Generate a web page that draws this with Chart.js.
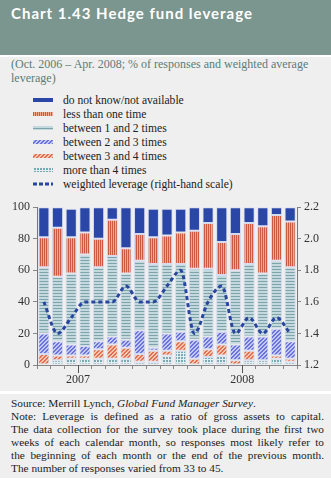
<!DOCTYPE html>
<html>
<head>
<meta charset="utf-8">
<script src="https://cdn.jsdelivr.net/npm/chart.js@4.4.1/dist/chart.umd.min.js"></script>
<style>
  body { margin: 0; width: 331px; height: 480px; background: #fff; position: relative; overflow: hidden; }
  .box { position: absolute; left: 0; width: 331px; background: #efefef; }
  #head { position: absolute; left: 0; top: 0; width: 331px; height: 55px; background: #7b958f; }
  #head h1 { margin: 0; position: absolute; left: 11px; top: 4px; font: bold 15px Lato, sans-serif; letter-spacing: 1px; color: #fff; }
  #sub { position: absolute; left: 11px; top: 58px; width: 315px; font: 12px "Liberation Serif", serif; line-height: 13.5px; color: #5a7d76; }
  #legend { position: absolute; left: 33px; top: 94px; font: 11.6px "Liberation Serif", serif; color: #222; }
  #legend div { height: 14px; line-height: 14px; white-space: nowrap; }
  #legend canvas { vertical-align: middle; margin-right: 10px; position: relative; top: -1px; }
  #wrap { position: absolute; left: 0; top: 197px; width: 331px; height: 195px; }
  #foot { position: absolute; left: 11px; top: 397px; width: 313px; font: 11.3px "Liberation Serif", serif; line-height: 13px; color: #222; }
  #foot div { text-align: justify; text-align-last: justify; white-space: nowrap; }
  #foot div.l { text-align-last: left; }
</style>
</head>
<body>
<div id="head"><h1>Chart 1.43 Hedge fund leverage</h1></div>
<div class="box" style="top:57px;height:334px"></div>
<div class="box" style="top:394px;height:84px"></div>
<div id="sub">(Oct. 2006 – Apr. 2008; % of responses and weighted average leverage)</div>
<div id="legend"></div>
<div id="wrap"><canvas id="chart"></canvas></div>
<div id="foot">
  <div class="l">Source: Merrill Lynch, <i>Global Fund Manager Survey</i>.</div>
  <div>Note: Leverage is defined as a ratio of gross assets to capital.</div>
  <div>The data collection for the survey took place during the first two</div>
  <div>weeks of each calendar month, so responses most likely refer to</div>
  <div>the beginning of each month or the end of the previous month.</div>
  <div class="l">The number of responses varied from 33 to 45.</div>
</div>
<script>
// Oct 2006 - Apr 2008, % of responses by leverage bucket
const months = ['Oct 06', 'Nov 06', 'Dec 06', 'Jan 07', 'Feb 07', 'Mar 07', 'Apr 07', 'May 07', 'Jun 07', 'Jul 07',
  'Aug 07', 'Sep 07', 'Oct 07', 'Nov 07', 'Dec 07', 'Jan 08', 'Feb 08', 'Mar 08', 'Apr 08'];
const yearLabels = { 3: '2007', 15: '2008' };

const moreThan4 = [0, 3, 4, 4, 4, 4, 4, 2, 2, 6, 9, 0, 5, 6, 0, 3, 3, 4, 2];
const between3and4 = [7, 3, 2, 2, 6, 9, 7, 5, 7, 3, 6, 4, 5, 7, 3, 6, 0, 2, 2];
const between2and3 = [13, 9, 7, 6, 5, 5, 5, 15, 2, 11, 6, 12, 8, 8, 10, 9, 15, 17, 11];
const between1and2 = [42, 41, 45, 58, 47, 51, 42, 44, 53, 44, 43, 45, 43, 36, 47, 46, 40, 43, 47];
const lessThanOne = [19, 31, 23, 14, 18, 23, 16, 17, 17, 18, 20, 24, 29, 21, 23, 26, 30, 29, 29];
const doNotKnow = [19, 13, 18, 16, 20, 8, 26, 17, 18, 17, 15, 15, 10, 22, 17, 10, 12, 5, 9];
// weighted average leverage, right-hand scale
const weighted = [1.6, 1.4, 1.5, 1.6, 1.6, 1.6, 1.7, 1.6, 1.6, 1.7, 1.8, 1.4, 1.6, 1.7, 1.4, 1.5, 1.4, 1.5, 1.4];

const leftTicks = [0, 20, 40, 60, 80, 100];
const rightTicks = [1.2, 1.4, 1.6, 1.8, 2.0, 2.2];

function makePattern(w, h, bg, draw) {
  const c = document.createElement('canvas');
  c.width = w; c.height = h;
  const g = c.getContext('2d');
  g.fillStyle = bg;
  g.fillRect(0, 0, w, h);
  draw(g);
  return g.createPattern(c, 'repeat');
}

function diagonal(bg, fg) {
  return makePattern(4, 4, bg, g => {
    g.fillStyle = fg;
    for (let i = 0; i < 4; i++) {
      g.fillRect(i, 3 - i, 1, 1);
      g.fillRect(i, (4 - i) % 4, 1, 1);
    }
  });
}

const fills = {
  dkn: '#2a47a8',
  less: makePattern(2, 1, '#f0aa90', g => { g.fillStyle = '#cc5a42'; g.fillRect(0, 0, 1, 1); }),
  b12: makePattern(1, 3, '#c4d9dd', g => { g.fillStyle = '#7ea3aa'; g.fillRect(0, 0, 1, 1); }),
  b23: diagonal('#c2c8f6', '#6c74dc'),
  b34: diagonal('#f6c6b2', '#e0704f'),
  mt4: makePattern(3, 3, '#78aab3', g => { g.fillStyle = '#e4eef0'; g.fillRect(0, 0, 3, 1); g.fillRect(0, 0, 1, 3); })
};

const lineColor = '#2845a0';
const edge = '#d6dcef';

function barSet(label, data, fill) {
  return {
    type: 'bar', label, data, backgroundColor: fill, borderColor: edge, borderWidth: 1,
    borderSkipped: false, yAxisID: 'y', stack: 's', order: 2,
    barPercentage: 0.82, categoryPercentage: 1
  };
}

const datasets = [
  barSet('more than 4 times', moreThan4, fills.mt4),
  barSet('between 3 and 4 times', between3and4, fills.b34),
  barSet('between 2 and 3 times', between2and3, fills.b23),
  barSet('between 1 and 2 times', between1and2, fills.b12),
  barSet('less than one time', lessThanOne, fills.less),
  barSet('do not know/not available', doNotKnow, fills.dkn),
  {
    type: 'line', label: 'weighted leverage (right-hand scale)', data: weighted, yAxisID: 'y1', order: 0,
    borderColor: lineColor, borderWidth: 3, borderDash: [4, 3], pointRadius: 0,
    cubicInterpolationMode: 'monotone', fill: false
  }
];

const serif = { family: '"Liberation Serif", serif', size: 12 };

// longer tick marks at the start of each year
const yearTicks = {
  id: 'yearTicks',
  afterDraw(chart) {
    const x = chart.scales.x, ctx = chart.ctx;
    const half = (x.getPixelForTick(1) - x.getPixelForTick(0)) / 2;
    ctx.save();
    ctx.strokeStyle = '#555';
    ctx.lineWidth = 1;
    Object.keys(yearLabels).forEach(i => {
      const px = Math.round(x.getPixelForTick(+i) - half) + 0.5;
      ctx.beginPath();
      ctx.moveTo(px, chart.chartArea.bottom);
      ctx.lineTo(px, chart.chartArea.bottom + 8);
      ctx.stroke();
    });
    ctx.restore();
  }
};

const chart = new Chart(document.getElementById('chart'), {
  data: { labels: months, datasets },
  plugins: [yearTicks],
  options: {
    responsive: true,
    maintainAspectRatio: false,
    animation: false,
    layout: { padding: { top: 10, left: 0, right: 0, bottom: 0 } },
    plugins: { legend: { display: false }, tooltip: { enabled: false } },
    scales: {
      x: {
        stacked: true,
        afterFit: s => { s.height = 27; },
        grid: { offset: true, drawOnChartArea: false, tickLength: 4, color: '#888' },
        border: { color: '#888' },
        ticks: {
          autoSkip: false, maxRotation: 0, labelOffset: -6.8, padding: 4,
          font: serif, color: '#333',
          callback: (v, i) => yearLabels[i] || ''
        }
      },
      y: {
        stacked: true, position: 'left', min: 0, max: 100,
        afterFit: s => { s.width = 37; },
        afterBuildTicks: s => { s.ticks = leftTicks.map(v => ({ value: v })); },
        grid: { drawOnChartArea: false, tickLength: 4, color: '#888' },
        border: { color: '#777' },
        ticks: { font: serif, color: '#333', padding: 3 }
      },
      y1: {
        position: 'right', min: 1.2, max: 2.2,
        afterFit: s => { s.width = 34; },
        afterBuildTicks: s => { s.ticks = rightTicks.map(v => ({ value: v })); },
        grid: { drawOnChartArea: false, tickLength: 4, color: '#888' },
        border: { color: '#777' },
        ticks: { font: serif, color: '#333', padding: 3, callback: v => v.toFixed(1) }
      }
    }
  }
});

// legend, top to bottom as listed
const legendOrder = [5, 4, 3, 2, 1, 0, 6];
const legend = document.getElementById('legend');
legendOrder.forEach(i => {
  const ds = chart.data.datasets[i];
  const row = document.createElement('div');
  const sw = document.createElement('canvas');
  sw.width = 20; sw.height = 6;
  const g = sw.getContext('2d');
  if (ds.type === 'line') {
    g.strokeStyle = ds.borderColor;
    g.lineWidth = 3;
    g.setLineDash([4, 2]);
    g.beginPath(); g.moveTo(0, 3); g.lineTo(20, 3); g.stroke();
  } else {
    g.fillStyle = ds.backgroundColor;
    g.fillRect(0, 1, 20, 4);
  }
  row.appendChild(sw);
  row.appendChild(document.createTextNode(ds.label));
  legend.appendChild(row);
});
</script>
</body>
</html>
